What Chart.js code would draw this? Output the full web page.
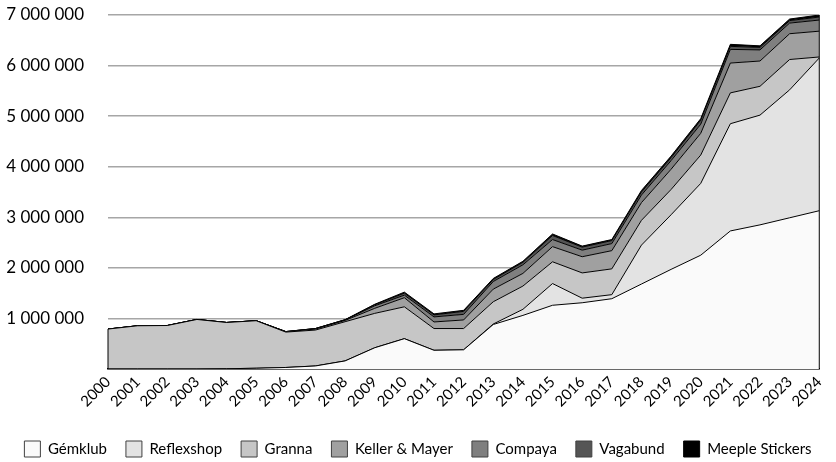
<!DOCTYPE html>
<html>
<head>
<meta charset="utf-8">
<script src="https://cdn.jsdelivr.net/npm/chart.js@4"></script>
<style>
  html, body { margin: 0; padding: 0; background: #fff; }
  #wrap { width: 836px; height: 462px; }
</style>
</head>
<body>
<div id="wrap"><canvas id="chart"></canvas></div>
<script>
var years = ['2000','2001','2002','2003','2004','2005','2006','2007','2008','2009','2010','2011','2012',
             '2013','2014','2015','2016','2017','2018','2019','2020','2021','2022','2023','2024'];

var gemklub = [0, 0, 0, 0, 5000, 15000, 30000, 60000, 160000, 420000, 600000, 370000, 380000,
               880000, 1060000, 1260000, 1310000, 1390000, 1680000, 1970000, 2250000, 2730000, 2850000, 2990000, 3130000];
var reflexshop = [0, 0, 0, 0, 0, 0, 0, 0, 0, 0, 0, 0, 0,
                  10000, 120000, 430000, 90000, 80000, 770000, 1080000, 1420000, 2120000, 2170000, 2530000, 3020000];
var granna = [790000, 855000, 860000, 980000, 915000, 940000, 700000, 710000, 775000, 680000, 630000, 430000, 420000,
              440000, 460000, 430000, 500000, 510000, 490000, 500000, 560000, 610000, 570000, 600000, 20000];
var kellerMayer = [0, 0, 0, 0, 0, 0, 5000, 20000, 25000, 100000, 180000, 130000, 170000,
                   250000, 250000, 300000, 320000, 360000, 350000, 400000, 430000, 590000, 500000, 510000, 510000];
var compaya = [0, 0, 0, 0, 0, 0, 5000, 10000, 10000, 50000, 50000, 100000, 110000,
               150000, 170000, 140000, 130000, 140000, 150000, 170000, 180000, 270000, 220000, 210000, 220000];
var vagabund = [0, 0, 0, 0, 0, 0, 0, 0, 5000, 20000, 40000, 40000, 60000,
                40000, 50000, 80000, 60000, 60000, 60000, 60000, 80000, 60000, 50000, 50000, 60000];
var meepleStickers = [0, 0, 0, 0, 0, 0, 0, 0, 0, 10000, 20000, 20000, 20000,
                      20000, 20000, 30000, 20000, 20000, 30000, 30000, 30000, 40000, 30000, 30000, 40000];

var seriesNames = ['Gémklub', 'Reflexshop', 'Granna', 'Keller & Mayer', 'Compaya', 'Vagabund', 'Meeple Stickers'];
var seriesData = [gemklub, reflexshop, granna, kellerMayer, compaya, vagabund, meepleStickers];
var fills = ['#fafafa', '#e3e3e3', '#c6c6c6', '#a0a0a0', '#7f7f7f', '#555555', '#000000'];

var datasets = seriesNames.map(function (name, i) {
    return {
        label: name,
        data: seriesData[i],
        backgroundColor: fills[i],
        borderColor: '#000',
        borderWidth: 1,
        pointRadius: 0,
        tension: 0,
        fill: i === 0 ? 'origin' : '-1'
    };
});

function spaced(v) {
    return String(v).replace(/\B(?=(\d{3})+(?!\d))/g, ' ');
}

// closes the stacked area at the first and last category
var edgeLines = {
    id: 'edgeLines',
    afterDatasetsDraw: function (chart) {
        var ctx = chart.ctx;
        var yScale = chart.scales.y;
        var top = chart.getDatasetMeta(chart.data.datasets.length - 1).data;
        var y0 = yScale.getPixelForValue(0);
        ctx.save();
        ctx.strokeStyle = '#000';
        ctx.lineWidth = 1;
        [0, top.length - 1].forEach(function (i) {
            ctx.beginPath();
            ctx.moveTo(top[i].x, y0);
            ctx.lineTo(top[i].x, top[i].y);
            ctx.stroke();
        });
        ctx.restore();
    }
};

Chart.defaults.font.family = 'Lato, "Open Sans", sans-serif';
Chart.defaults.color = '#000';

new Chart(document.getElementById('chart'), {
    type: 'line',
    data: { labels: years, datasets: datasets },
    options: {
        responsive: true,
        maintainAspectRatio: false,
        animation: false,
        layout: { padding: { top: 15, right: 4, left: 4, bottom: -5 } },
        plugins: {
            tooltip: { enabled: false },
            legend: {
                position: 'bottom',
                labels: {
                    boxWidth: 16,
                    boxHeight: 16,
                    padding: 19,
                    font: { size: 15 },
                    generateLabels: function (chart) {
                        var items = Chart.defaults.plugins.legend.labels.generateLabels(chart);
                        items.forEach(function (it, i) {
                            it.strokeStyle = i === 6 ? '#000' : '#404040';
                            it.lineWidth = 1;
                        });
                        return items;
                    }
                }
            }
        },
        scales: {
            x: {
                offset: false,
                grid: { display: false, drawTicks: false },
                border: { display: true, color: '#000', width: 1.5 },
                ticks: {
                    maxRotation: 45,
                    minRotation: 45,
                    autoSkip: false,
                    font: { size: 15 },
                    padding: 4
                },
                afterFit: function (s) {
                    s.height = 53;
                    s.paddingLeft = 0;
                }
            },
            y: {
                stacked: true,
                min: 0,
                max: 7000000,
                border: { display: false },
                grid: { color: '#a6a6a6', lineWidth: 1.5, drawTicks: false },
                ticks: {
                    stepSize: 1000000,
                    padding: 24,
                    font: { size: 17 },
                    callback: function (v) { return v === 0 ? '' : spaced(v); }
                },
                afterFit: function (s) {
                    s.width = 104;
                    s.paddingTop = 0;
                    s.paddingBottom = 0;
                }
            }
        }
    },
    plugins: [edgeLines]
});
</script>
</body>
</html>
